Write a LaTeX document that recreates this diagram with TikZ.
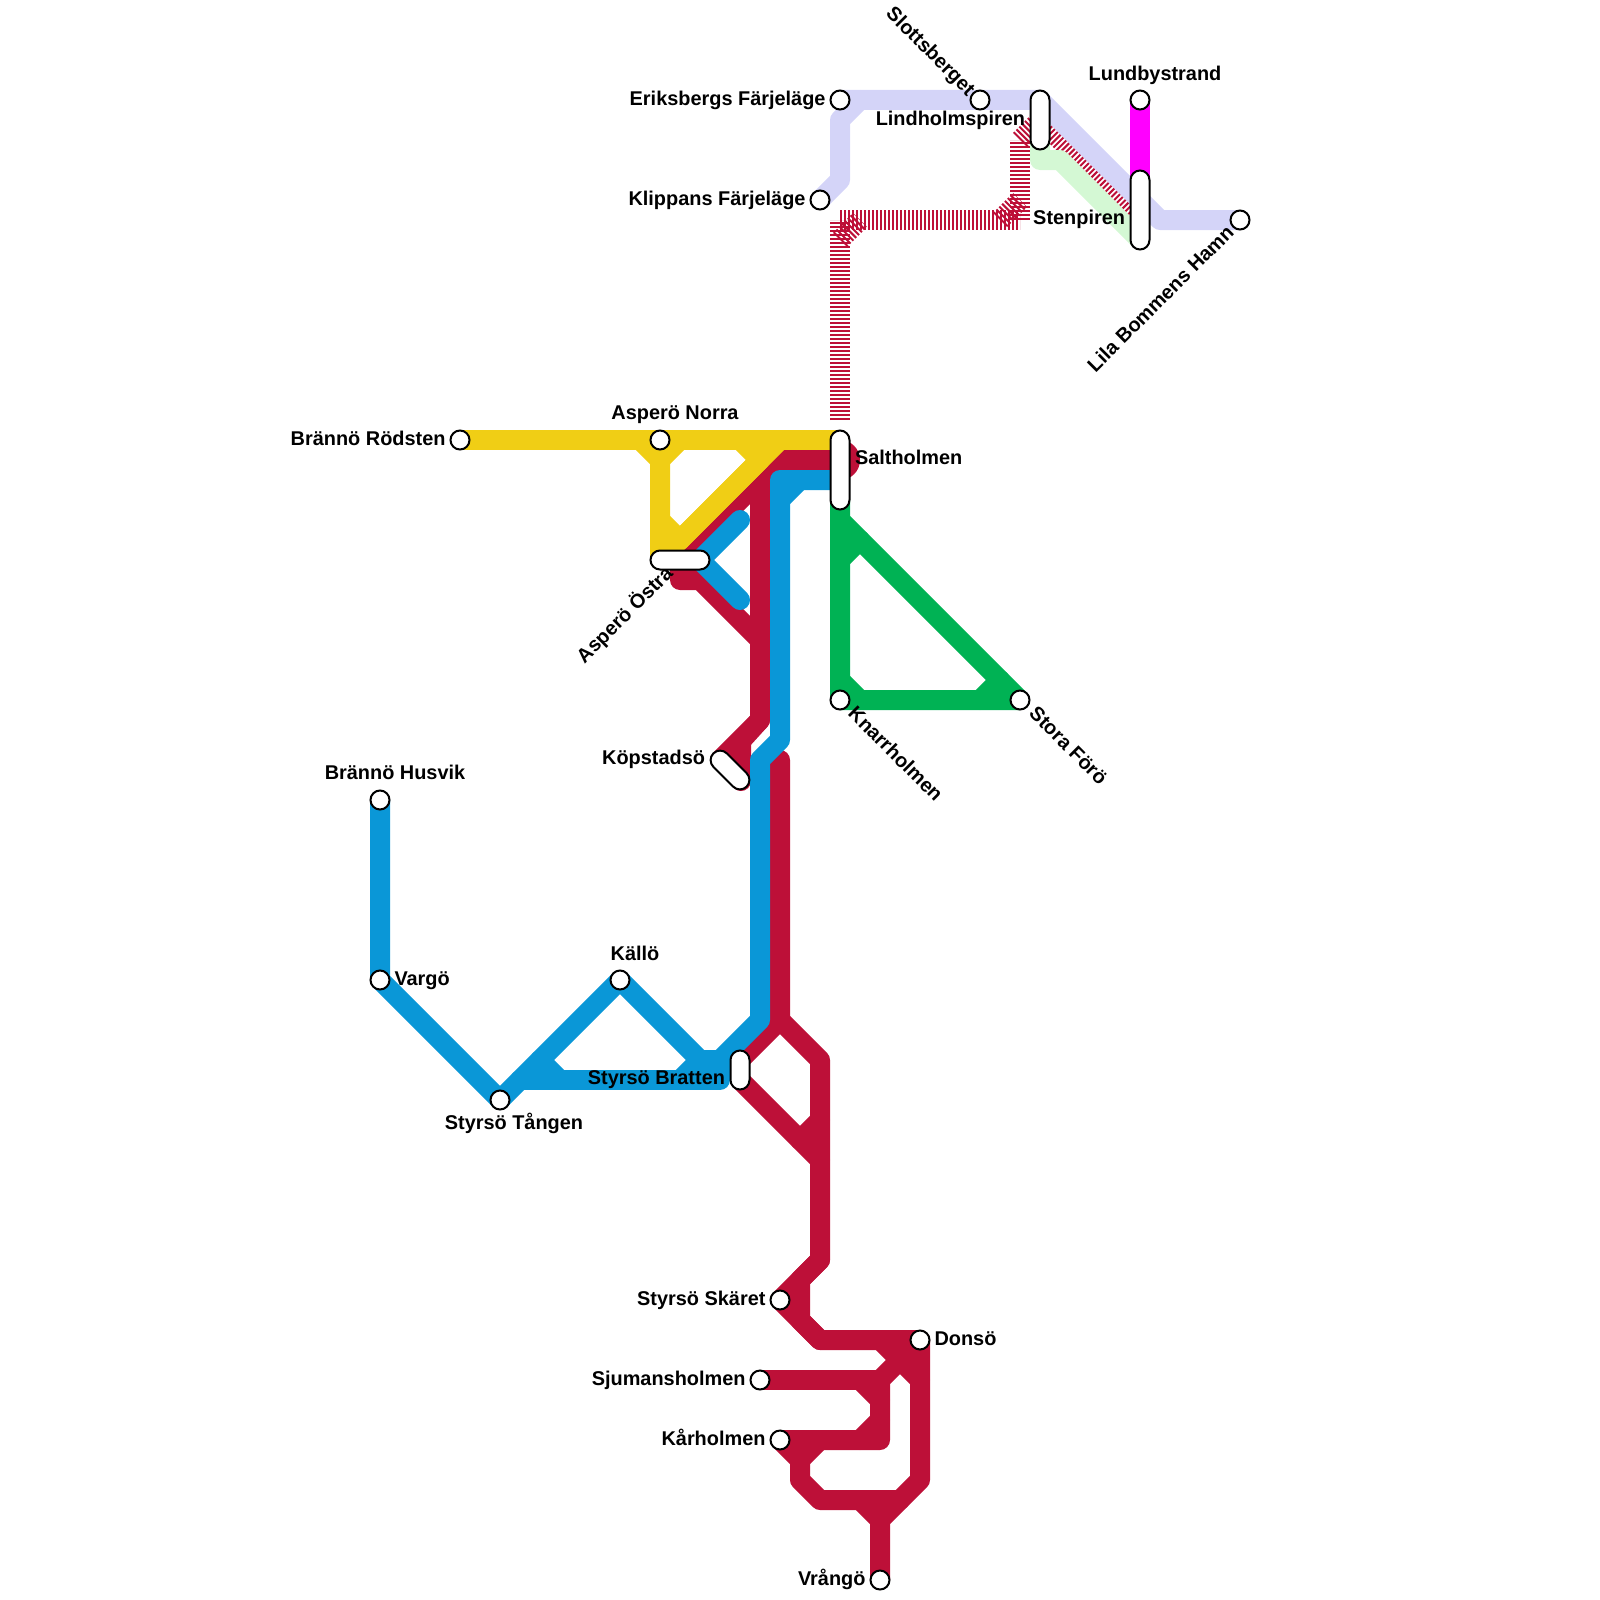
\documentclass[tikz,border=0pt]{standalone}
\usepackage{fontspec}
\setmainfont{Liberation Sans}
\usetikzlibrary{positioning,backgrounds}
\definecolor{lineyellow}{HTML}{F0CE15}
\definecolor{linered}{HTML}{BD1038}
\definecolor{lineblue}{HTML}{0A97D7}
\definecolor{linegreen}{HTML}{00B254}
\definecolor{linelilac}{HTML}{D4D4F8}
\definecolor{linemint}{HTML}{D4F8D4}
\definecolor{linepink}{HTML}{FF00FF}

\begin{document}
\begin{tikzpicture}[
  x=1pt, y=-1pt,
  node distance=5pt,
  stn/.style={circle, draw=black, fill=white, line width=2pt, minimum size=19pt, inner sep=0pt, outer sep=0pt},
  pill/.style={rectangle, draw=black, fill=white, line width=2pt, rounded corners=9.5pt, inner sep=0pt, outer sep=0pt, minimum width=19pt},
  lbl/.style={font=\fontsize{19.9pt}{21pt}\selectfont\bfseries, text height=15pt, text depth=4pt, inner sep=0pt, outer sep=0pt},
  metro/.style={line width=20pt, line cap=round, line join=round},
  stripe/.style={line width=20pt, linered, dash pattern=on 2pt off 2pt}
]
\useasboundingbox (0,0) rectangle (1600,1600);

\node[stn] (rodsten) at (460,440) {};
\node[stn] (norra) at (660,440) {};
\node[stn] (eriksberg) at (840,100) {};
\node[stn] (klippan) at (820,200) {};
\node[stn] (slott) at (980,100) {};
\node[stn] (lundby) at (1140,100) {};
\node[stn] (lila) at (1240,220) {};
\node[stn] (knarr) at (840,700) {};
\node[stn] (stora) at (1020,700) {};
\node[stn] (husvik) at (380,800) {};
\node[stn] (vargo) at (380,980) {};
\node[stn] (kallo) at (620,980) {};
\node[stn] (tangen) at (500,1100) {};
\node[stn] (skaret) at (780,1300) {};
\node[stn] (donso) at (920,1340) {};
\node[stn] (sjuman) at (760,1380) {};
\node[stn] (karholm) at (780,1440) {};
\node[stn] (vrango) at (880,1580) {};

\node[pill, minimum height=59pt] (lindholm) at (1040,120) {};
\node[pill, minimum height=79pt] (stenpir) at (1140,210) {};
\node[pill, minimum height=79pt] (salt) at (840,470) {};
\node[pill, minimum height=39pt] (bratten) at (740,1070) {};
\node[pill, minimum height=59pt, rotate=90] (ostra) at (680,560) {};
\node[pill, minimum height=47pt, rotate=45] (kopstad) at (730,770) {};

\coordinate (saltred) at (840,460);
\coordinate (saltblue) at (840,480);
\coordinate (saltgreen) at (840,500);
\coordinate (saltyellow) at (840,440);
\coordinate (brattentop) at (740,1060);
\coordinate (brattenlow) at (740,1080);
\coordinate (redfork) at (780,1020);
\coordinate (bluebend) at (720,1060);
\coordinate (blueend) at (720,1080);

\begin{scope}[on background layer]
\draw[stripe] (840,420) -- (840,220);
\draw[stripe] (840,240) -- (860,220);
\draw[stripe] (840,220) -- (1020,220);
\draw[stripe] (1000,220) -- (1020,200);
\draw[stripe] (1020,220) -- (1020,140);
\draw[stripe] (1020,140) -- (lindholm.center);
\draw[stripe] (lindholm.center) -- (1140,220);

\draw[metro, linelilac] (eriksberg.center) -- (lindholm.north |- slott) -- (1160,220) -- (lila.center);
\draw[metro, linelilac] (klippan.center) -- (840,180) -- (840,120) -- (860,100);
\draw[metro, linemint] (1040,140) -- (1040,160) -- (1060,160) -- (1140,240);
\draw[metro, linepink] (lundby.center) -- (1140,180);

\fill[linered] (saltred) circle (20pt);
\draw[metro, linered] (saltred) -- (780,460) -- (680,560) -- (680,580) -- (700,580) -- (760,640);
\draw[metro, linered] (760,480) -- (760,720) -- (720,760);
\draw[metro, linered] (760,720) -- (741,741) -- (741,781);
\draw[metro, linered] (780,760) -- (redfork) -- (brattentop);
\draw[metro, linered] (redfork) -- (820,1060) -- (820,1260) -- (skaret.center) -- (820,1340) -- (donso.center);
\draw[metro, linered] (brattenlow) -- (820,1160);
\draw[metro, linered] (820,1120) -- ++(-20,20);
\draw[metro, linered] (820,1260) -- (800,1280) -- (800,1320) -- (820,1340);
\draw[metro, linered] (donso.center) -- (920,1480) -- (880,1520) -- (vrango.center);
\draw[metro, linered] (donso.center) -- (880,1380) -- (880,1440) -- (karholm.center);
\draw[metro, linered] (880,1340) -- (920,1380);
\draw[metro, linered] (sjuman.center) -- (880,1380);
\draw[metro, linered] (860,1380) -- ++(20,20);
\draw[metro, linered] (860,1440) -- ++(20,-20);
\draw[metro, linered] (karholm.center) -- (800,1460) -- (800,1480) -- (820,1500) -- (900,1500);
\draw[metro, linered] (820,1440) -- ++(-20,20);
\draw[metro, linered] (860,1500) -- ++(20,20);

\draw[metro, lineyellow] (rodsten.center) -- (saltyellow);
\draw[metro, lineyellow] (640,440) -- (660,460) -- (ostra.center -| 660,0);
\draw[metro, lineyellow] (680,440) -- (660,460);
\draw[metro, lineyellow] (740,440) -- (760,460) -- (680,540) -- (660,560);
\draw[metro, lineyellow] (780,440) -- (680,540);
\draw[metro, lineyellow] (660,520) -- ++(20,20);

\draw[metro, lineblue] (saltblue) -- (780,480) -- (780,740) -- (760,760) -- (760,1020) -- (bluebend) -- (700,1060) -- (kallo.center) -- (tangen.center);
\draw[metro, lineblue] (800,480) -- ++(-20,20);
\draw[metro, lineblue] (740,520) -- (700,560) -- (740,600);
\draw[metro, lineblue] (husvik.center) -- (vargo.center) -- (tangen.center);
\draw[metro, lineblue] (520,1080) -- (blueend) -- (bluebend);
\draw[metro, lineblue] (680,1080) -- ++(20,-20);
\draw[metro, lineblue] (540,1060) -- ++(20,20);

\draw[metro, linegreen] (saltgreen) -- (knarr.center) -- (stora.center) -- (840,520);
\draw[metro, linegreen] (840,560) -- ++(20,-20);
\draw[metro, linegreen] (840,680) -- ++(20,20);
\draw[metro, linegreen] (980,700) -- ++(20,-20);
\end{scope}

\node[lbl, left=of rodsten] (rodstenlbl) {Brännö Rödsten};
\node[lbl, anchor=center] (norralbl) at (675,413.5) {Asperö Norra};
\node[lbl, left=of eriksberg] (eriksberglbl) {Eriksbergs Färjeläge};
\node[lbl, left=of klippan] (klippanlbl) {Klippans Färjeläge};
\node[lbl, rotate=-45, anchor=east] (slottlbl) at (971,93) {Slottsberget};
\node[lbl, anchor=east] (lindholmlbl) at (1025,120.5) {Lindholmspiren};
\node[lbl, anchor=center] (lundbylbl) at (1155,75.5) {Lundbystrand};
\node[lbl, anchor=east] (stenpirlbl) at (1125,219) {Stenpiren};
\node[lbl, rotate=45, anchor=east] (lilalbl) at (1231,230) {Lila Bommens Hamn};
\node[lbl, anchor=west] (saltlbl) at (855,459) {Saltholmen};
\node[lbl, rotate=-45, anchor=west] (knarrlbl) at (851,711) {Knarrholmen};
\node[lbl, rotate=-45, anchor=west] (storalbl) at (1032,711) {Stora Förö};
\node[lbl, rotate=45, anchor=east] (ostralbl) at (670,571) {Asperö Östra};
\node[lbl, anchor=east] (kopstadlbl) at (705,759) {Köpstadsö};
\node[lbl, anchor=center] (husviklbl) at (395,773.5) {Brännö Husvik};
\node[lbl, right=of vargo] (vargolbl) {Vargö};
\node[lbl, anchor=center] (kallolbl) at (635,955) {Källö};
\node[lbl, anchor=center] (tangenlbl) at (514,1123.5) {Styrsö Tången};
\node[lbl, anchor=east] (brattenlbl) at (725,1079) {Styrsö Bratten};
\node[lbl, left=of skaret] (skaretlbl) {Styrsö Skäret};
\node[lbl, right=of donso] (donsolbl) {Donsö};
\node[lbl, left=of sjuman] (sjumanlbl) {Sjumansholmen};
\node[lbl, left=of karholm] (karholmlbl) {Kårholmen};
\node[lbl, left=of vrango] (vrangolbl) {Vrångö};
\end{tikzpicture}
\end{document}
